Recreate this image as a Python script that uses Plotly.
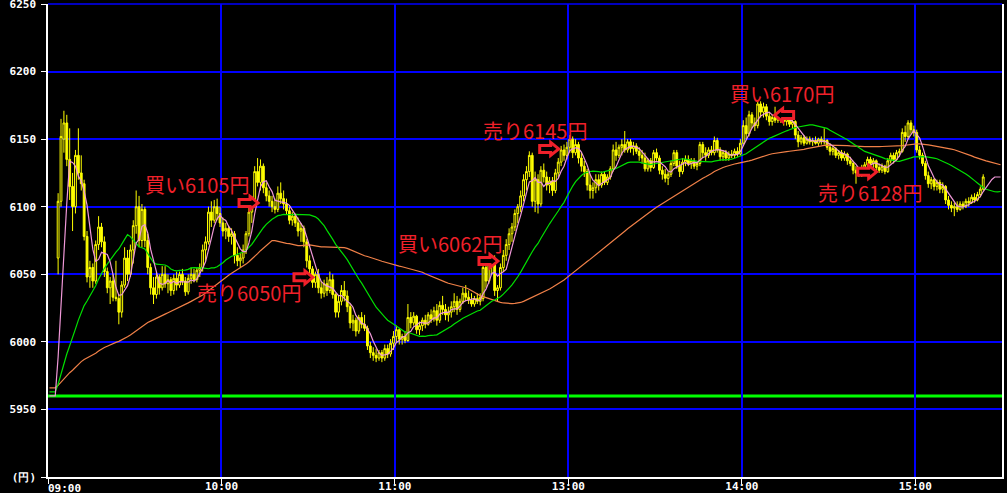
import plotly.graph_objects as go
import pandas as pd

# ---------------- data ----------------
first_bar_time = "09:03"
session_minutes = 330            # 09:00-11:30 + 12:30-15:30
prev_close = 5960
prior_ma = {5: 5960, 25: 5963, 75: 5966}   # averages carried over from the prior session

opens = [
    6062, 6104, 6150, 6162, 6135, 6115, 6100, 6138, 6125, 6117,
    6078, 6048, 6055, 6045, 6072, 6085, 6074, 6052, 6040, 6045,
    6033, 6032, 6022, 6042, 6062, 6050, 6068, 6086, 6100, 6075,
    6098, 6075, 6055, 6040, 6035, 6048, 6040, 6050, 6043, 6046,
    6038, 6047, 6042, 6050, 6045, 6037, 6047, 6050, 6046, 6053,
    6055, 6068, 6074, 6096, 6090, 6100, 6095, 6088, 6082, 6084,
    6078, 6080, 6064, 6060, 6062, 6068, 6080, 6096, 6104, 6126,
    6118, 6130, 6114, 6108, 6104, 6100, 6098, 6110, 6106, 6102,
    6097, 6090, 6093, 6088, 6082, 6084, 6074, 6060, 6054, 6044,
    6050, 6040, 6036, 6043, 6038, 6046, 6035, 6022, 6030, 6038,
    6034, 6026, 6014, 6016, 6008, 6018, 6013, 6010, 5997, 5992,
    5990, 5988, 5992, 5988, 5995, 5991, 5999, 6004, 6009, 6002,
    6004, 6001, 6018, 6014, 6019, 6009, 6012, 6016, 6013, 6020,
    6017, 6023, 6016, 6027, 6024, 6020, 6022, 6026, 6030, 6024,
    6030, 6036, 6033, 6031, 6028, 6032, 6030,
    6032, 6055, 6045, 6058, 6062, 6038, 6040, 6055, 6064, 6072,
    6080, 6085, 6095, 6100, 6108, 6120, 6126, 6138, 6104, 6120,
    6102, 6127, 6122, 6116, 6119, 6112, 6125, 6133, 6142, 6138,
    6144, 6150, 6140, 6146, 6136, 6130, 6126, 6116, 6112, 6114,
    6120, 6116, 6124, 6118, 6122, 6128, 6142, 6138, 6144, 6146,
    6142, 6148, 6143, 6145, 6141, 6138, 6136, 6128, 6134, 6129,
    6140, 6136, 6127, 6124, 6121, 6124, 6132, 6140, 6130, 6126,
    6133, 6135, 6132, 6134, 6130, 6132, 6146, 6140, 6138, 6142,
    6140, 6149, 6142, 6137, 6140, 6136, 6139, 6138, 6141, 6139,
    6147, 6160, 6154, 6168, 6162, 6160, 6176, 6170, 6174, 6167,
    6163, 6166, 6164, 6168, 6165, 6163, 6165, 6161, 6163, 6153,
    6148, 6151, 6147, 6150, 6148, 6149, 6147, 6150, 6148, 6149,
    6144, 6141, 6143, 6138, 6140, 6136, 6139, 6134, 6132, 6127,
    6125, 6124, 6129, 6131, 6135, 6132, 6134, 6129, 6127, 6130,
    6126, 6134, 6138, 6135, 6140, 6141, 6155, 6152, 6162, 6157,
    6155, 6142, 6138, 6132, 6123, 6117, 6120, 6115, 6118, 6113,
    6115, 6105, 6101, 6099, 6100, 6098, 6102, 6100, 6104, 6103,
    6107, 6105, 6109, 6113,
]
highs = [
    6110, 6165, 6171, 6168, 6158, 6125, 6142, 6158, 6138, 6120,
    6082, 6060, 6058, 6075, 6093, 6088, 6078, 6055, 6048, 6050,
    6060, 6035, 6045, 6070, 6068, 6072, 6090, 6112, 6108, 6102,
    6100, 6080, 6058, 6048, 6052, 6050, 6056, 6056, 6050, 6048,
    6050, 6052, 6052, 6054, 6048, 6050, 6055, 6054, 6055, 6058,
    6072, 6078, 6100, 6104, 6105, 6106, 6100, 6092, 6088, 6086,
    6084, 6082, 6070, 6066, 6072, 6082, 6100, 6108, 6130, 6136,
    6135, 6132, 6118, 6112, 6108, 6106, 6115, 6118, 6112, 6106,
    6100, 6096, 6095, 6092, 6088, 6086, 6076, 6064, 6056, 6052,
    6054, 6045, 6046, 6048, 6052, 6050, 6036, 6034, 6042, 6045,
    6038, 6028, 6020, 6018, 6020, 6022, 6020, 6012, 6000, 5996,
    5995, 5994, 5994, 5998, 5998, 6002, 6008, 6012, 6010, 6006,
    6008, 6028, 6022, 6022, 6020, 6015, 6018, 6020, 6022, 6024,
    6026, 6028, 6030, 6034, 6028, 6026, 6030, 6036, 6034, 6032,
    6040, 6042, 6038, 6036, 6034, 6036, 6036,
    6058, 6062, 6060, 6064, 6064, 6042, 6058, 6068, 6076, 6084,
    6088, 6098, 6102, 6112, 6124, 6130, 6141, 6140, 6126, 6124,
    6130, 6132, 6126, 6122, 6122, 6128, 6136, 6145, 6146, 6148,
    6153, 6152, 6150, 6148, 6140, 6134, 6128, 6124, 6118, 6124,
    6124, 6126, 6126, 6124, 6130, 6146, 6148, 6146, 6150, 6156,
    6150, 6150, 6148, 6147, 6144, 6142, 6140, 6136, 6136, 6142,
    6143, 6138, 6130, 6128, 6126, 6134, 6142, 6142, 6134, 6136,
    6138, 6138, 6136, 6136, 6134, 6148, 6148, 6144, 6144, 6145,
    6152, 6151, 6144, 6142, 6142, 6141, 6142, 6143, 6144, 6150,
    6164, 6166, 6171, 6170, 6166, 6178, 6178, 6177, 6176, 6170,
    6168, 6174, 6170, 6172, 6168, 6167, 6168, 6166, 6164, 6156,
    6153, 6153, 6152, 6152, 6151, 6152, 6151, 6152, 6158, 6150,
    6147, 6145, 6144, 6142, 6142, 6141, 6140, 6137, 6134, 6130,
    6128, 6131, 6133, 6137, 6137, 6136, 6135, 6132, 6132, 6131,
    6136, 6140, 6140, 6142, 6143, 6158, 6160, 6164, 6164, 6160,
    6157, 6145, 6140, 6134, 6126, 6122, 6121, 6120, 6120, 6118,
    6116, 6108, 6104, 6103, 6104, 6104, 6104, 6106, 6107, 6109,
    6110, 6111, 6115, 6124,
]
lows = [
    6050, 6100, 6140, 6130, 6105, 6082, 6095, 6120, 6112, 6075,
    6044, 6040, 6040, 6043, 6068, 6070, 6048, 6036, 6028, 6030,
    6030, 6013, 6018, 6040, 6045, 6048, 6058, 6080, 6070, 6070,
    6070, 6050, 6035, 6028, 6032, 6035, 6038, 6040, 6036, 6034,
    6035, 6038, 6040, 6042, 6034, 6035, 6043, 6044, 6044, 6048,
    6052, 6060, 6072, 6085, 6088, 6090, 6085, 6078, 6076, 6074,
    6072, 6058, 6056, 6055, 6058, 6065, 6078, 6088, 6100, 6115,
    6112, 6110, 6104, 6100, 6096, 6095, 6096, 6102, 6098, 6094,
    6087, 6086, 6085, 6078, 6074, 6070, 6055, 6050, 6040, 6040,
    6036, 6032, 6033, 6034, 6036, 6032, 6018, 6018, 6027, 6030,
    6022, 6010, 6008, 6004, 6006, 6010, 6008, 5994, 5988, 5986,
    5985, 5986, 5985, 5986, 5988, 5989, 5994, 6000, 5998, 5998,
    5999, 6000, 6010, 6012, 6006, 6005, 6008, 6010, 6012, 6014,
    6015, 6012, 6014, 6020, 6016, 6015, 6018, 6022, 6020, 6022,
    6028, 6030, 6028, 6026, 6026, 6028, 6027,
    6030, 6040, 6043, 6050, 6034, 6030, 6038, 6052, 6060, 6068,
    6074, 6082, 6088, 6096, 6104, 6112, 6122, 6100, 6096, 6095,
    6100, 6118, 6112, 6110, 6108, 6110, 6122, 6130, 6134, 6135,
    6140, 6136, 6138, 6132, 6126, 6122, 6112, 6106, 6106, 6110,
    6112, 6114, 6116, 6116, 6120, 6126, 6134, 6136, 6138, 6140,
    6140, 6140, 6138, 6139, 6134, 6132, 6126, 6126, 6126, 6128,
    6134, 6124, 6120, 6118, 6116, 6122, 6130, 6128, 6122, 6124,
    6130, 6130, 6128, 6128, 6127, 6130, 6136, 6134, 6136, 6138,
    6138, 6140, 6134, 6134, 6134, 6134, 6136, 6136, 6137, 6138,
    6145, 6150, 6152, 6158, 6156, 6158, 6166, 6166, 6164, 6160,
    6160, 6162, 6162, 6162, 6160, 6160, 6159, 6158, 6150, 6144,
    6146, 6145, 6146, 6146, 6145, 6146, 6145, 6146, 6146, 6142,
    6138, 6138, 6136, 6135, 6134, 6134, 6131, 6130, 6124, 6117,
    6122, 6122, 6126, 6129, 6130, 6128, 6126, 6125, 6125, 6124,
    6125, 6132, 6132, 6134, 6137, 6140, 6148, 6150, 6154, 6152,
    6140, 6135, 6130, 6120, 6114, 6113, 6112, 6112, 6110, 6110,
    6102, 6098, 6096, 6093, 6096, 6097, 6098, 6099, 6100, 6102,
    6103, 6104, 6107, 6112,
]
closes = [
    6104, 6152, 6162, 6135, 6115, 6100, 6138, 6125, 6117, 6078,
    6048, 6055, 6045, 6072, 6085, 6074, 6052, 6040, 6045, 6033,
    6032, 6022, 6042, 6062, 6050, 6068, 6086, 6100, 6075, 6098,
    6075, 6055, 6040, 6035, 6048, 6040, 6050, 6043, 6046, 6038,
    6047, 6042, 6050, 6045, 6037, 6047, 6050, 6046, 6053, 6055,
    6068, 6074, 6096, 6090, 6100, 6095, 6088, 6082, 6084, 6078,
    6080, 6064, 6060, 6062, 6068, 6080, 6096, 6104, 6126, 6118,
    6130, 6114, 6108, 6104, 6100, 6098, 6110, 6106, 6102, 6097,
    6090, 6093, 6088, 6082, 6084, 6074, 6060, 6054, 6044, 6050,
    6040, 6036, 6043, 6038, 6046, 6035, 6022, 6030, 6038, 6034,
    6026, 6014, 6016, 6008, 6018, 6013, 6010, 5997, 5992, 5990,
    5988, 5992, 5988, 5995, 5991, 5999, 6004, 6009, 6002, 6004,
    6001, 6018, 6014, 6019, 6009, 6012, 6016, 6013, 6020, 6017,
    6023, 6016, 6027, 6024, 6020, 6022, 6026, 6030, 6024, 6030,
    6036, 6033, 6031, 6028, 6032, 6030, 6033,
    6055, 6045, 6058, 6062, 6038, 6040, 6055, 6064, 6072, 6080,
    6085, 6095, 6100, 6108, 6120, 6126, 6138, 6104, 6120, 6102,
    6127, 6122, 6116, 6119, 6112, 6125, 6133, 6142, 6138, 6144,
    6150, 6140, 6146, 6136, 6130, 6126, 6116, 6112, 6114, 6120,
    6116, 6124, 6118, 6122, 6128, 6142, 6138, 6144, 6146, 6142,
    6148, 6143, 6145, 6141, 6138, 6136, 6128, 6134, 6129, 6140,
    6136, 6127, 6124, 6121, 6124, 6132, 6140, 6130, 6126, 6133,
    6135, 6132, 6134, 6130, 6132, 6146, 6140, 6138, 6142, 6140,
    6149, 6142, 6137, 6140, 6136, 6139, 6138, 6141, 6139, 6147,
    6160, 6154, 6168, 6162, 6160, 6176, 6170, 6174, 6167, 6163,
    6166, 6164, 6168, 6165, 6163, 6165, 6161, 6163, 6153, 6148,
    6151, 6147, 6150, 6148, 6149, 6147, 6150, 6148, 6149, 6144,
    6141, 6143, 6138, 6140, 6136, 6139, 6134, 6132, 6127, 6125,
    6124, 6129, 6131, 6135, 6132, 6134, 6129, 6127, 6130, 6126,
    6134, 6138, 6135, 6140, 6141, 6155, 6152, 6162, 6157, 6155,
    6142, 6138, 6132, 6123, 6117, 6120, 6115, 6118, 6113, 6115,
    6105, 6101, 6099, 6100, 6098, 6102, 6100, 6104, 6103, 6107,
    6105, 6109, 6113, 6122,
]

y_ticks = [5900, 5950, 6000, 6050, 6100, 6150, 6200, 6250]
y_tick_text = ["(円)", "5950", "6000", "6050", "6100", "6150", "6200", "6250"]
x_tick_times = ["09:00", "10:00", "11:00", "13:00", "14:00", "15:00"]

signal_times = ["10:13", "10:32", "12:36", "12:57", "14:11", "14:47"]
signal_prices = [6105, 6050, 6062, 6145, 6170, 6128]
signal_labels = ["買い6105円", "売り6050円", "買い6062円", "売り6145円", "買い6170円", "売り6128円"]
signal_dirs = ["right", "right", "right", "right", "left", "right"]

# ---------------- styles ----------------
label_shift = [(-62, 15), (-65, -18), (-49, 15), (-25, 15), (8, 19), (-8, -24)]
RED = "#f0202a"
BLUE = "#0000ff"
tick_font = dict(family="DejaVu Sans Mono", size=11, color="white", weight="bold")

assert len(opens) == len(highs) == len(lows) == len(closes)


def session_minute(t):
    h, m = map(int, t.split(":"))
    mins = (h - 9) * 60 + m
    if mins >= 210:          # afternoon session opens 12:30, lunch removed
        mins -= 60
    return mins


start = session_minute(first_bar_time)
n = len(closes)
bar_x = [start + i + 0.5 for i in range(n)]

fig = go.Figure()

# previous close line
fig.add_shape(type="line", xref="paper", yref="y", x0=0, x1=1,
              y0=prev_close, y1=prev_close,
              line=dict(color="#00ff00", width=3), layer="below")
# top border drawn as a grid-coloured line
fig.add_shape(type="line", xref="paper", yref="paper", x0=0, x1=1, y0=1, y1=1,
              line=dict(color=BLUE, width=1.5), layer="below")

fig.add_trace(go.Candlestick(
    x=bar_x, open=opens, high=highs, low=lows, close=closes,
    increasing=dict(line=dict(color="#ffff00", width=1), fillcolor="#000000"),
    decreasing=dict(line=dict(color="#ffff00", width=1), fillcolor="#ffff00"),
    hoverinfo="skip", showlegend=False,
))

# moving averages (no-trade minutes carry the last price)
full = [None] * session_minutes
for i, c in enumerate(closes):
    full[start + i] = c
s = pd.Series(full, dtype=float).ffill()
ma_x = [m + 0.5 for m in range(session_minutes)]
for w, color in [(75, "#f08048"), (25, "#00e000"), (5, "#f098d8")]:
    pad = prior_ma[w]
    ext = pd.concat([pd.Series([pad] * (w - 1), dtype=float), s.fillna(pad)], ignore_index=True)
    ma = ext.rolling(w).mean().iloc[w - 1:].tolist()
    fig.add_trace(go.Scatter(x=ma_x, y=ma, mode="lines",
                             line=dict(color=color, width=1.2),
                             hoverinfo="skip", showlegend=False))

# trade signals
annotations = []
for t, p, lab, d, (dx, dy) in zip(signal_times, signal_prices, signal_labels, signal_dirs, label_shift):
    tx = session_minute(t)
    sgn = 1 if d == "right" else -1
    yo = -3
    pts = [(-1, 0), (-9, 6.5), (-9, 3.5), (-20, 3.5), (-20, -3.5), (-9, -3.5), (-9, -6.5)]
    path = "M" + " L".join(f"{sgn * x},{y + yo}" for x, y in pts) + " Z"
    fig.add_shape(type="path", xref="x", yref="y", xsizemode="pixel", ysizemode="pixel",
                  xanchor=tx, yanchor=p, path=path,
                  line=dict(color=RED, width=3), fillcolor="#000000", layer="above")
    annotations.append(dict(x=tx, y=p, xref="x", yref="y", text=lab, showarrow=False,
                            xanchor="center", yanchor="middle", xshift=dx, yshift=dy,
                            font=dict(family="Noto Sans CJK JP", size=20, color=RED)))

annotations.append(dict(x=0, y=0, xref="x", yref="paper", text="09:00", showarrow=False,
                        xanchor="left", yanchor="top", xshift=-2, yshift=-3, font=tick_font))

xt = [session_minute(t) for t in x_tick_times]
fig.update_layout(
    width=1007, height=493,
    paper_bgcolor="#000000", plot_bgcolor="#000000",
    margin=dict(l=48, r=5, t=4, b=16),
    annotations=annotations,
    showlegend=False,
    boxgap=0.1,
    xaxis=dict(range=[0, session_minutes], tickvals=xt,
               ticktext=[""] + x_tick_times[1:],
               showgrid=True, gridcolor=BLUE, gridwidth=1.5,
               showline=True, linecolor="white", linewidth=1.5,
               ticks="outside", ticklen=5, tickcolor="white", tickwidth=1,
               ticklabelstandoff=-7, ticklabeloverflow="allow",
               tickfont=tick_font, zeroline=False, automargin=False,
               rangeslider=dict(visible=False), fixedrange=True),
    yaxis=dict(range=[5900, 6250], tickvals=y_ticks, ticktext=y_tick_text,
               showgrid=True, gridcolor=BLUE, gridwidth=1.5,
               showline=True, mirror=True, linecolor="white", linewidth=1.5,
               ticks="outside", ticklen=5, tickcolor="white", tickwidth=1,
               ticklabelstandoff=3, ticklabeloverflow="allow",
               tickfont=tick_font, zeroline=False, automargin=False, fixedrange=True),
)

fig.write_html("out.html", config={"displayModeBar": False},
               post_script="document.body.style.margin='0px';document.body.style.overflow='hidden';")
